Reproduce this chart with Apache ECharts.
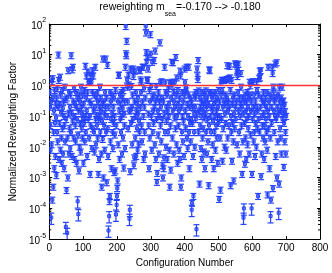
<!DOCTYPE html>
<html><head><meta charset="utf-8">
<script src="https://cdn.jsdelivr.net/npm/echarts@6/dist/echarts.min.js"></script>
<style>html,body{margin:0;padding:0;background:#fff}#c{width:332px;height:273px}</style>
</head><body><div id="c"></div>
<script>
// ---- data ----
const titleMain = 'reweighting m';
const titleSub = 'sea';
const titleTail = '=-0.170 --> -0.180';
const xName = 'Configuration Number';
const yName = 'Normalized Reweighting Factor';
const xTicks = [0, 100, 200, 300, 400, 500, 600, 700, 800];
const yDecades = [-5, -4, -3, -2, -1, 0, 1, 2];
const refLine = 1;
const configStart = 1;
const factors = [
6e-1,2e-1,5e-2,8e-3,3e-1,5e-5,1.2e-2,1.35,1.9e-4,1.7,
4e-1,5e-4,3e-2,1.5e-1,2e-3,7e-1,6e-2,5e-3,2.5e-1,9e-2,
1.2e-3,4e-1,3e-2,8e-1,1.5e-2,2e-1,10,1.5,4e-3,6e-2,
2.5e-1,1.9,8e-3,5e-1,1.3e-1,2e-2,3e-3,7e-1,4e-2,1.8e-1,
6e-3,3e-1,1e-1,2e-3,5e-2,9e-1,1.5e-2,3.5e-1,2.5e-5,8e-2,
3.9e-4,4e-1,1.6e-5,2e-2,1e-3,3.1,1.2e-1,6e-3,6e-1,4e-2,
2e-1,9e-3,5e-1,3e-2,9.5,1.3e-1,5e-3,3.3,7e-2,4,
3e-1,2e-2,8e-1,1e-1,4e-3,2.5e-1,5e-2,1.5e-2,6e-1,2e-1,
3e-3,8e-2,4e-1,1.7e-4,2.5e-2,6.5e-5,1.5e-1,1.7e-3,5e-1,1e-2,
3e-1,6e-2,7e-3,9e-1,2e-1,4e-2,1.2e-1,2e-2,5e-1,8e-2,
3e-3,2.5e-1,6e-2,7e-1,1.5e-2,1e-1,4.3,3e-2,4e-1,2.1,
1.5e-1,5e-3,6e-1,2.8,8e-2,1.3,1.35,2e-2,3e-1,1e-1,
1.3e-3,5e-2,2.2,2.5e-1,1.3,9e-3,6e-1,3.1,4e-2,2.1,
1.5e-1,3e-2,5e-1,7e-3,2e-1,4,8e-2,1.2e-2,4e-1,1.1e-1,
5e-2,6e-1,2e-2,3e-1,1.3e-3,8e-2,4e-3,2e-1,1e-1,9e-1,
3e-2,4e-1,1.5e-1,6e-3,5e-4,7e-2,2.5e-1,1.8e-2,7.4,1e-3,
3e-1,5e-2,1.2e-1,8e-3,6e-1,2e-1,7.4,3e-2,4e-1,7e-4,
1e-1,4.6,4e-2,5e-3,1.9e-5,2e-1,5.6e-5,1.7e-4,2.5e-4,6e-1,
1.5e-2,3e-1,8e-2,2e-3,5e-1,1.2e-1,3e-2,9e-3,2e-1,6e-2,
4e-1,1.5e-3,1e-1,2.5e-2,1.7e-3,7e-1,6.3e-5,5e-2,1.3e-4,2.5e-4,
4.5e-4,8e-4,3e-1,1.2e-2,2.2,2.2,1.5e-1,4e-3,5e-1,8e-2,
2.5e-1,3e-2,6e-1,1e-1,6e-3,4e-1,1.8e-1,2e-2,7e-1,2.1e-3,
1.2e-1,5e-2,3e-1,9e-3,4,85,11,9.5,28,1.55,
9e-1,3e-1,4e-2,2.2,1.07,1.5e-1,4.6e-5,9e-5,1.6e-3,3.5,
1.6e-1,6e-2,9.5e-1,2e-1,1.2e-2,5e-1,8e-2,3.5,2,2.5e-3,
4.5e-3,3e-1,3,2e-2,1e-1,6e-1,5e-3,1.5e-1,4e-2,2.5e-1,
8e-3,4e-1,1.2e-1,1.26e-2,7e-2,3.3,3e-2,3.1,2e-1,1.55,
6e-1,1.35,5e-2,1.5e-2,3e-1,4,4,1e-1,4e-3,8e-1,
2e-1,3e-2,6e-3,4e-1,85,52,12,5.8,1.55,8.5,
1.5,3.5,1.2e-1,5e-2,2e-3,7e-1,2e-2,3e-1,46,10.7,
9.5e-1,1e-1,8e-3,5.8,4e-1,3e-2,1.5e-1,6e-2,5e-1,6.6,
2e-1,1.2e-2,13.5,3e-1,4e-3,9.5e-1,8e-2,7.2e-4,1.4e-3,4e-1,
1.5e-1,2.5e-2,6e-1,6e-3,1e-1,3e-1,25,1.25,5e-2,2e-1,
1.5e-2,1.35,4e-1,8e-2,2.5e-3,1e-3,3e-1,2e-3,4.5e-3,1.2e-1,
4,3e-2,1.25,6e-1,1e-2,2e-1,7e-2,5e-1,4e-3,1.5e-1,
3e-2,8e-1,1e-1,2.5e-1,8e-3,5e-4,1.2,5e-2,1.8e-3,4e-1,
1.3,5.8,1.05,2e-2,1.5e-1,5.6,6e-1,6e-3,3e-1,9e-2,
1.3,2e-1,4e-2,8.3,5e-1,1.2e-2,1.8,1e-1,3e-3,7e-1,
2.5e-1,5e-2,1.5e-1,8e-3,4e-1,4e-3,3,2.1,5e-4,1e-3,
2e-1,3e-2,6e-1,1e-1,1.5e-2,3e-1,7e-2,5e-3,5e-1,3.5,
1.26,1.5e-1,4e-2,8.5e-1,6.8e-1,4,2e-2,2.5e-1,9e-3,1e-1,
5e-1,4,3e-2,2e-3,2e-1,6e-2,4e-1,1.5e-2,8e-2,3e-1,
9e-5,1.5e-4,6e-2,2e-1,5e-3,2.5e-4,1.2e-1,3e-2,5e-1,1e-2,
2e-1,4e-1,8e-2,6e-1,2.1e-5,1.2e-1,3.5,2.1,1.6,6.6,
3e-2,6.8e-1,1.5e-1,6.3e-4,4e-1,5e-2,2e-1,9e-3,1e-1,3e-1,
4e-3,6e-1,2e-2,1.5e-1,4e-2,2.5e-1,7e-3,5e-1,9e-2,2e-3,
3e-1,1.2e-1,6.8e-1,3e-2,2e-1,6e-3,4e-1,8e-2,1.5e-2,2.5e-1,
5.6e-4,5e-2,3.3,3.1,6e-1,1e-1,6e-1,3e-2,2e-1,4e-3,
4e-1,1.5e-1,1.2e-2,7e-2,5e-1,2e-3,2.5e-1,3e-2,1e-1,6e-1,
8e-3,3e-1,5e-2,1.5e-1,2e-2,4e-1,1e-1,3e-3,2e-1,6e-2,
7e-1,2e-4,3e-1,1e-1,2e-2,4e-4,1.3,5e-1,8e-2,1.5,
7e-1,3.5e-3,2e-1,4e-2,1.5,3e-1,1.5,1e-2,1.2e-1,5e-1,
6e-2,2.5e-1,8e-3,1.6,4e-1,4.5,2e-2,1.5e-1,3e-1,1.7,
5e-2,2e-1,4.3,1.8,7e-1,5.6e-4,1e-1,3e-2,1.5,3.5e-3,
2.5e-1,6e-2,4e-1,1.5e-2,8e-4,1.2e-1,5e-1,4e-2,5.1,2e-1,
8e-2,5.1,3e-1,2.8,1.2e-2,2,3.2,6e-1,5,1.5e-1,
3e-2,4e-1,6e-3,1e-1,2.5e-1,2.5,9e-1,5e-2,2e-1,1.3e-3,
4e-1,1.5e-2,1.2e-1,5e-5,1e-4,3e-1,6e-2,2.8e-3,5e-1,2e-2,
1.5e-1,4e-3,3e-1,8e-2,6e-1,1.2e-2,2e-1,4e-2,1e-1,4e-1,
6e-3,1.3,5e-1,1,2.5e-2,1.5e-1,3e-1,1e-4,1.3e-3,1.3,
8e-2,1.35,2e-1,1.5e-2,5e-1,3e-2,1.2e-1,5e-3,3e-1,6e-2,
2e-1,1e-2,1.35,7e-1,4e-2,1.5e-1,2.5e-4,5e-1,8e-2,1.7,
3e-2,3,1.8,2e-1,3.1,1.1e-3,4e-1,6e-3,1e-1,5e-2,
3e-1,2e-2,6e-1,1.2e-1,4e-3,2.5e-1,5e-2,1.5e-2,4e-1,8e-2,
2e-1,3e-2,6e-1,8e-3,2.8e-4,1.5e-1,4,4e-2,3e-1,1e-1,
2e-3,5e-1,2e-2,5.6e-5,1.9e-4,2e-1,6e-2,4e-1,4,2.5,
4.5e-4,9e-1,6.3e-1,1.5e-1,3e-2,3e-1,1e-1,5.1,5e-3,4e-1,
8e-2,5.6,1e-3,2e-1,1.5e-2,5e-1,1.2e-1,7.2e-5,6.3e-4,9e-1,
3e-1,4e-2,1.5e-1,2e-2,4e-1,6e-3,2e-1,9e-1,8e-2,3e-1,
1.2e-1,3.2e-1,2.2e-3,6e-2,2.3e-1,1.5e-2,1.4e-1,3e-2,6e-3,1e-1
];
const typicalRelErr = 0.22;
const largeErrConfigs = [6,49,53,84,86,175,177,197,199,237,238,421,435,574,575,598,654,678];
const largeRelErr = 0.4;
const minorMultipliers = [2,3,4,5,6,7,8,9];

// ---- build ----
const blue = '#2442ff';
const red = '#ff3535';
const points = factors.map((v, i) => {
  const x = configStart + i;
  const e = largeErrConfigs.includes(x) ? largeRelErr : typicalRelErr;
  return [x, v, v * (1 - e), v * (1 + e)];
});
const minorVals = [];
yDecades.slice(0, -1).forEach(d => minorMultipliers.forEach(m => minorVals.push([m * Math.pow(10, d)])));
const xMin = xTicks[0], xMax = xTicks[xTicks.length - 1];
const yMin = Math.pow(10, yDecades[0]), yMax = Math.pow(10, yDecades[yDecades.length - 1]);
const font = '"Liberation Sans", Arial, Helvetica, sans-serif';

const yLabel = v => {
  const e = Math.round(Math.log10(v));
  return '{b|10}{s|' + e + '}';
};
const axisCommon = {
  axisLine: { show: true, onZero: false, lineStyle: { color: '#000', width: 1 } },
  splitLine: { show: false },
  axisTick: { show: true, inside: true, length: 3, lineStyle: { color: '#000' } }
};

const chart = echarts.init(document.getElementById('c'), null, { renderer: 'canvas' });
chart.setOption({
  animation: false,
  backgroundColor: '#fff',
  grid: { left: 37, right: 12, top: 24, bottom: 28, containLabel: false },
  graphic: [{
    type: 'text', x: 180, y: 2, z: 10,
    style: {
      text: '{a|' + titleMain + '}{s|' + titleSub + '}{a|' + titleTail + '}',
      align: 'center',
      rich: {
        a: { fontFamily: font, fontSize: 10.5, color: '#000', lineHeight: 16, verticalAlign: 'top' },
        s: { fontFamily: font, fontSize: 7, color: '#000', lineHeight: 16, verticalAlign: 'bottom' }
      }
    }
  }],
  xAxis: [
    Object.assign({}, axisCommon, {
      type: 'value', min: xMin, max: xMax, interval: 100, position: 'bottom',
      axisLabel: { fontFamily: font, fontSize: 10, color: '#000', margin: 4 },
      name: xName, nameLocation: 'middle', nameGap: 15,
      nameTextStyle: { fontFamily: font, fontSize: 10, color: '#000' }
    }),
    Object.assign({}, axisCommon, {
      type: 'value', min: xMin, max: xMax, interval: 100, position: 'top',
      axisLabel: { show: false }
    })
  ],
  yAxis: [
    Object.assign({}, axisCommon, {
      type: 'log', logBase: 10, min: yMin, max: yMax, position: 'left',
      axisLabel: {
        formatter: yLabel, margin: 3,
        rich: {
          b: { fontFamily: font, fontSize: 10, color: '#000', lineHeight: 14, verticalAlign: 'bottom' },
          s: { fontFamily: font, fontSize: 7, color: '#000', lineHeight: 14, verticalAlign: 'top' }
        }
      },
      name: yName, nameLocation: 'middle', nameGap: 29, nameRotate: 90,
      nameTextStyle: { fontFamily: font, fontSize: 10, color: '#000' }
    }),
    Object.assign({}, axisCommon, {
      type: 'log', logBase: 10, min: yMin, max: yMax, position: 'right',
      axisLabel: { show: false }
    })
  ],
  series: [
    {
      type: 'custom', name: 'minor', xAxisIndex: 0, yAxisIndex: 0, silent: true,
      data: minorVals, clip: false,
      renderItem: (params, api) => {
        const y = api.value(0);
        const l = api.coord([xMin, y]), r = api.coord([xMax, y]);
        const st = { stroke: '#000', lineWidth: 1 };
        return { type: 'group', children: [
          { type: 'line', shape: { x1: l[0], y1: l[1], x2: l[0] + 2, y2: l[1] }, style: st },
          { type: 'line', shape: { x1: r[0] - 2, y1: r[1], x2: r[0], y2: r[1] }, style: st }
        ]};
      }
    },
    {
      type: 'custom', name: 'factor', xAxisIndex: 0, yAxisIndex: 0, clip: true,
      data: points, encode: { x: 0, y: 1 },
      renderItem: (params, api) => {
        const x = api.value(0);
        const c = api.coord([x, api.value(1)]);
        const lo = api.coord([x, api.value(2)]);
        const hi = api.coord([x, api.value(3)]);
        const w = 3, s = 1.5;
        const st = { stroke: blue, lineWidth: 1.2, fill: null };
        return { type: 'group', children: [
          { type: 'line', shape: { x1: c[0], y1: lo[1], x2: c[0], y2: hi[1] }, style: st },
          { type: 'line', shape: { x1: c[0] - w, y1: lo[1], x2: c[0] + w, y2: lo[1] }, style: st },
          { type: 'line', shape: { x1: c[0] - w, y1: hi[1], x2: c[0] + w, y2: hi[1] }, style: st },
          { type: 'rect', shape: { x: c[0] - s, y: c[1] - s, width: 2 * s, height: 2 * s }, style: { stroke: blue, lineWidth: 1, fill: 'rgba(36,66,255,0.35)' } }
        ]};
      }
    },
    {
      type: 'custom', name: 'reference', xAxisIndex: 0, yAxisIndex: 0, silent: true, z: 10,
      data: [[refLine]],
      renderItem: (params, api) => {
        const y = api.value(0);
        const l = api.coord([xMin, y]), r = api.coord([xMax, y]);
        return { type: 'line', z2: 100, shape: { x1: l[0] + 0.5, y1: l[1], x2: r[0] - 0.5, y2: r[1] }, style: { stroke: red, lineWidth: 1.6 } };
      }
    }
  ]
});
</script></body></html>
